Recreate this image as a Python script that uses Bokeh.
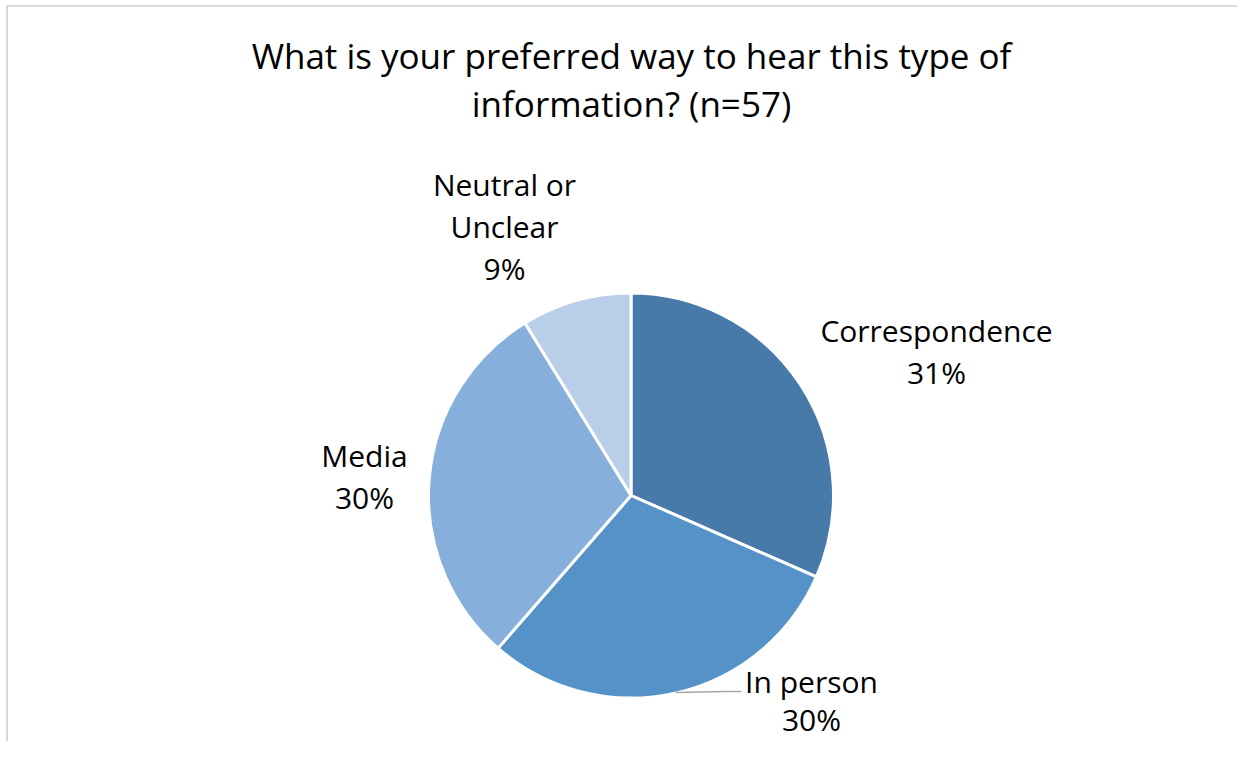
import math
from bokeh.plotting import figure
from bokeh.models import Range1d, ColumnDataSource
from bokeh.core.properties import value
from bokeh.embed import file_html
from bokeh.resources import INLINE

# ---- data ----
title_lines = ["What is your preferred way to hear this type of", "information? (n=57)"]
categories = ["Correspondence", "In person", "Media", "Neutral or Unclear"]
counts = [18, 17, 17, 5]
pct_labels = ["31%", "30%", "30%", "9%"]
colors = ["#4779A9", "#5592C8", "#87AFDB", "#B9CEE9"]

# ---- layout (reference pixel coordinates, y measured downward) ----
W, H = 1237, 741
def X(px):
    return px
def Y(py):
    return H - py

p = figure(width=W, height=H, output_backend="svg", toolbar_location=None,
           x_range=Range1d(0, W), y_range=Range1d(0, H),
           min_border=0)
p.axis.visible = False
p.grid.visible = False
p.outline_line_color = None
p.background_fill_color = "white"
p.border_fill_color = "white"

FONT = value("Open Sans")

# frame lines (left and top border of the chart area)
p.segment(x0=[X(6.5), X(6)], y0=[Y(5.5), Y(5.5)],
          x1=[X(6.5), X(W)], y1=[Y(H), Y(5.5)],
          line_color="#D9D9D9", line_width=2)

# pie
cx, cy, r = 630.5, 495, 202.5
total = sum(counts)
starts, ends = [], []
cum = 0.0
for c in counts:
    a_hi = math.pi / 2 - 2 * math.pi * cum / total
    cum += c
    a_lo = math.pi / 2 - 2 * math.pi * cum / total
    starts.append(a_lo)
    ends.append(a_hi)
src = ColumnDataSource(dict(start=starts, end=ends, color=colors, cat=categories))
p.wedge(x=X(cx), y=Y(cy), radius=r, start_angle="start", end_angle="end",
        fill_color="color", line_color="white", line_width=3, source=src)

# leader line for "In person"
p.line(x=[X(675), X(726), X(741)], y=[Y(692), Y(691), Y(691)],
       line_color="#A6A6A6", line_width=1.5)

# title
p.text(x=[X(631), X(631)], y=[Y(55), Y(103)], text=title_lines,
       text_font=FONT, text_font_size="35px", text_color="#000000",
       text_align="center", text_baseline="middle")

# data labels
lab_x = [936, 811, 364, 504]
lab_y = [330, 681, 455, 184]
gaps = [42, 38, 42, 42]
lx, ly, lt = [], [], []
for i, cat in enumerate(categories):
    lines = ["Neutral or", "Unclear"] if cat == "Neutral or Unclear" else [cat]
    lines = lines + [pct_labels[i]]
    for j, s in enumerate(lines):
        lx.append(X(lab_x[i]))
        ly.append(Y(lab_y[i] + gaps[i] * j))
        lt.append(s)
p.text(x=lx, y=ly, text=lt, text_font=FONT, text_font_size="30px",
       text_color="#000000", text_align="center", text_baseline="middle")

open("out.html", "w").write(file_html(p, INLINE))
